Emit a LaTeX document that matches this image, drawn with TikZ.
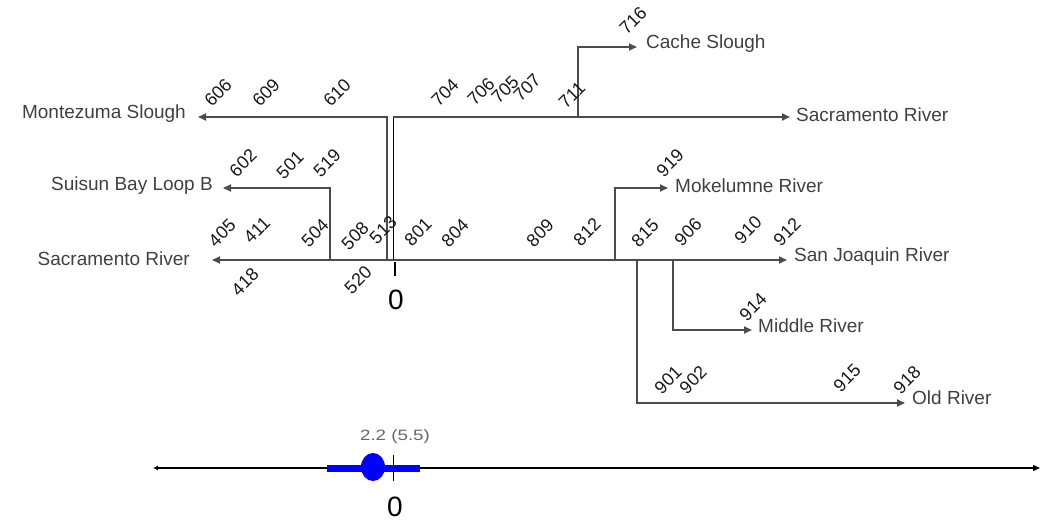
\documentclass[tikz,border=0pt]{standalone}
\usepackage{fontspec}
\setmainfont{Liberation Sans}
\usetikzlibrary{arrows.meta}
\begin{document}
\begin{tikzpicture}[x=1pt,y=-1pt,
  river/.style={draw=black!70,line width=1.7pt},
  flow/.style={river,-{Triangle[length=8pt,width=7pt]}},
  stem/.style={draw=black,line width=1pt},
  lbl/.style={text=black!75,font=\fontsize{19}{21}\selectfont,inner sep=0pt},
  num/.style={text=black!90,font=\fontsize{18}{20}\selectfont,rotate=45,inner sep=0pt},
  big/.style={font=\fontsize{28}{30}\selectfont,inner sep=0pt},
  small/.style={text=black!60,font=\fontsize{15}{17}\selectfont,inner sep=0pt,xscale=1.25}]
\useasboundingbox (0,0) rectangle (1044,527);

% coordinates of the network
\coordinate (msJ) at (387,260);
\coordinate (msC) at (387,117);
\coordinate (msT) at (198,117);
\coordinate (srJ) at (393,260);
\coordinate (srC) at (393,117);
\coordinate (srT) at (790,117);
\coordinate (csJ) at (578,117);
\coordinate (csC) at (578,47);
\coordinate (csT) at (637,47);
\coordinate (sbJ) at (330,260);
\coordinate (sbC) at (330,188);
\coordinate (sbT) at (223,188);
\coordinate (mL) at (212,260);
\coordinate (mR) at (787,260);
\coordinate (mkJ) at (615,260);
\coordinate (mkC) at (615,188);
\coordinate (mkT) at (668,188);
\coordinate (mdJ) at (673,260);
\coordinate (mdC) at (673,330);
\coordinate (mdT) at (752,330);
\coordinate (orJ) at (637,260);
\coordinate (orC) at (637,403);
\coordinate (orT) at (905,403);
\coordinate (tkA) at (395,262);
\coordinate (tkB) at (395,276);

% labels
\node[lbl,anchor=east] (ms) at (186,114) {Montezuma Slough};
\node[lbl,anchor=west] (srtop) at (796,115) {Sacramento River};
\node[lbl,anchor=west] (cs) at (646,44) {Cache Slough};
\node[lbl,anchor=east] (sb) at (213,186) {Suisun Bay Loop B};
\node[lbl,anchor=east] (srl) at (190,259) {Sacramento River};
\node[lbl,anchor=west] (sj) at (794,257) {San Joaquin River};
\node[lbl,anchor=west] (mk) at (675,186) {Mokelumne River};
\node[lbl,anchor=west] (md) at (758,326) {Middle River};
\node[lbl,anchor=west] (or) at (912,398) {Old River};

% branches
\draw[flow] (msJ) -- (msC) -- (msT);
\draw[stem] (srJ) -- (srC);
\draw[flow] (srC) -- (srT);
\draw[flow] (csJ) -- (csC) -- (csT);
\draw[flow] (sbJ) -- (sbC) -- (sbT);
\draw[flow] (srJ) -- (mL);
\draw[flow] (srJ) -- (mR);
\draw[flow] (mkJ) -- (mkC) -- (mkT);
\draw[flow] (mdJ) -- (mdC) -- (mdT);
\draw[flow] (orJ) -- (orC) -- (orT);
\draw[stem,line width=1.3pt] (tkA) -- (tkB);
\node[big] (zero1) at (396,300) {0};

% station numbers
\node[num] (n606) at (218,93) {606};
\node[num] (n609) at (266,93) {609};
\node[num] (n610) at (337,93) {610};
\node[num] (n704) at (445,93) {704};
\node[num] (n706) at (481,92) {706};
\node[num] (n705) at (505,90) {705};
\node[num] (n707) at (527,88) {707};
\node[num] (n711) at (572,95) {711};
\node[num] (n716) at (633,21) {716};
\node[num] (n602) at (243,163) {602};
\node[num] (n501) at (290,165) {501};
\node[num] (n519) at (327,163) {519};
\node[num] (n919) at (670,163) {919};
\node[num] (n405) at (222,233) {405};
\node[num] (n411) at (257,230) {411};
\node[num] (n504) at (315,233) {504};
\node[num] (n508) at (355,236) {508};
\node[num] (n513) at (383,230) {513};
\node[num] (n418) at (245,282) {418};
\node[num] (n520) at (358,280) {520};
\node[num] (n801) at (418,232) {801};
\node[num] (n804) at (455,233) {804};
\node[num] (n809) at (540,233) {809};
\node[num] (n812) at (587,232) {812};
\node[num] (n815) at (645,233) {815};
\node[num] (n906) at (688,232) {906};
\node[num] (n910) at (748,230) {910};
\node[num] (n912) at (787,232) {912};
\node[num] (n914) at (753,307) {914};
\node[num] (n901) at (668,380) {901};
\node[num] (n902) at (693,380) {902};
\node[num] (n915) at (847,378) {915};
\node[num] (n918) at (907,380) {918};

% bottom scale
\coordinate (bl) at (153,468);
\coordinate (br) at (1040,468);
\draw[black,line width=1.3pt,{Latex[length=5pt,width=5pt]}-{Triangle[length=7pt,width=6pt]}] (bl) -- (br);
\fill[blue] (327,464.5) rectangle (420,471.5);
\fill[blue] (373,467) ellipse [x radius=12pt, y radius=14pt];
\coordinate (btA) at (393,455);
\coordinate (btB) at (393,481);
\draw[black,line width=0.9pt] (btA) -- (btB);
\node[small] (val) at (395,437) {2.2 (5.5)};
\node[big] (zero2) at (395,507) {0};
\end{tikzpicture}
\end{document}
